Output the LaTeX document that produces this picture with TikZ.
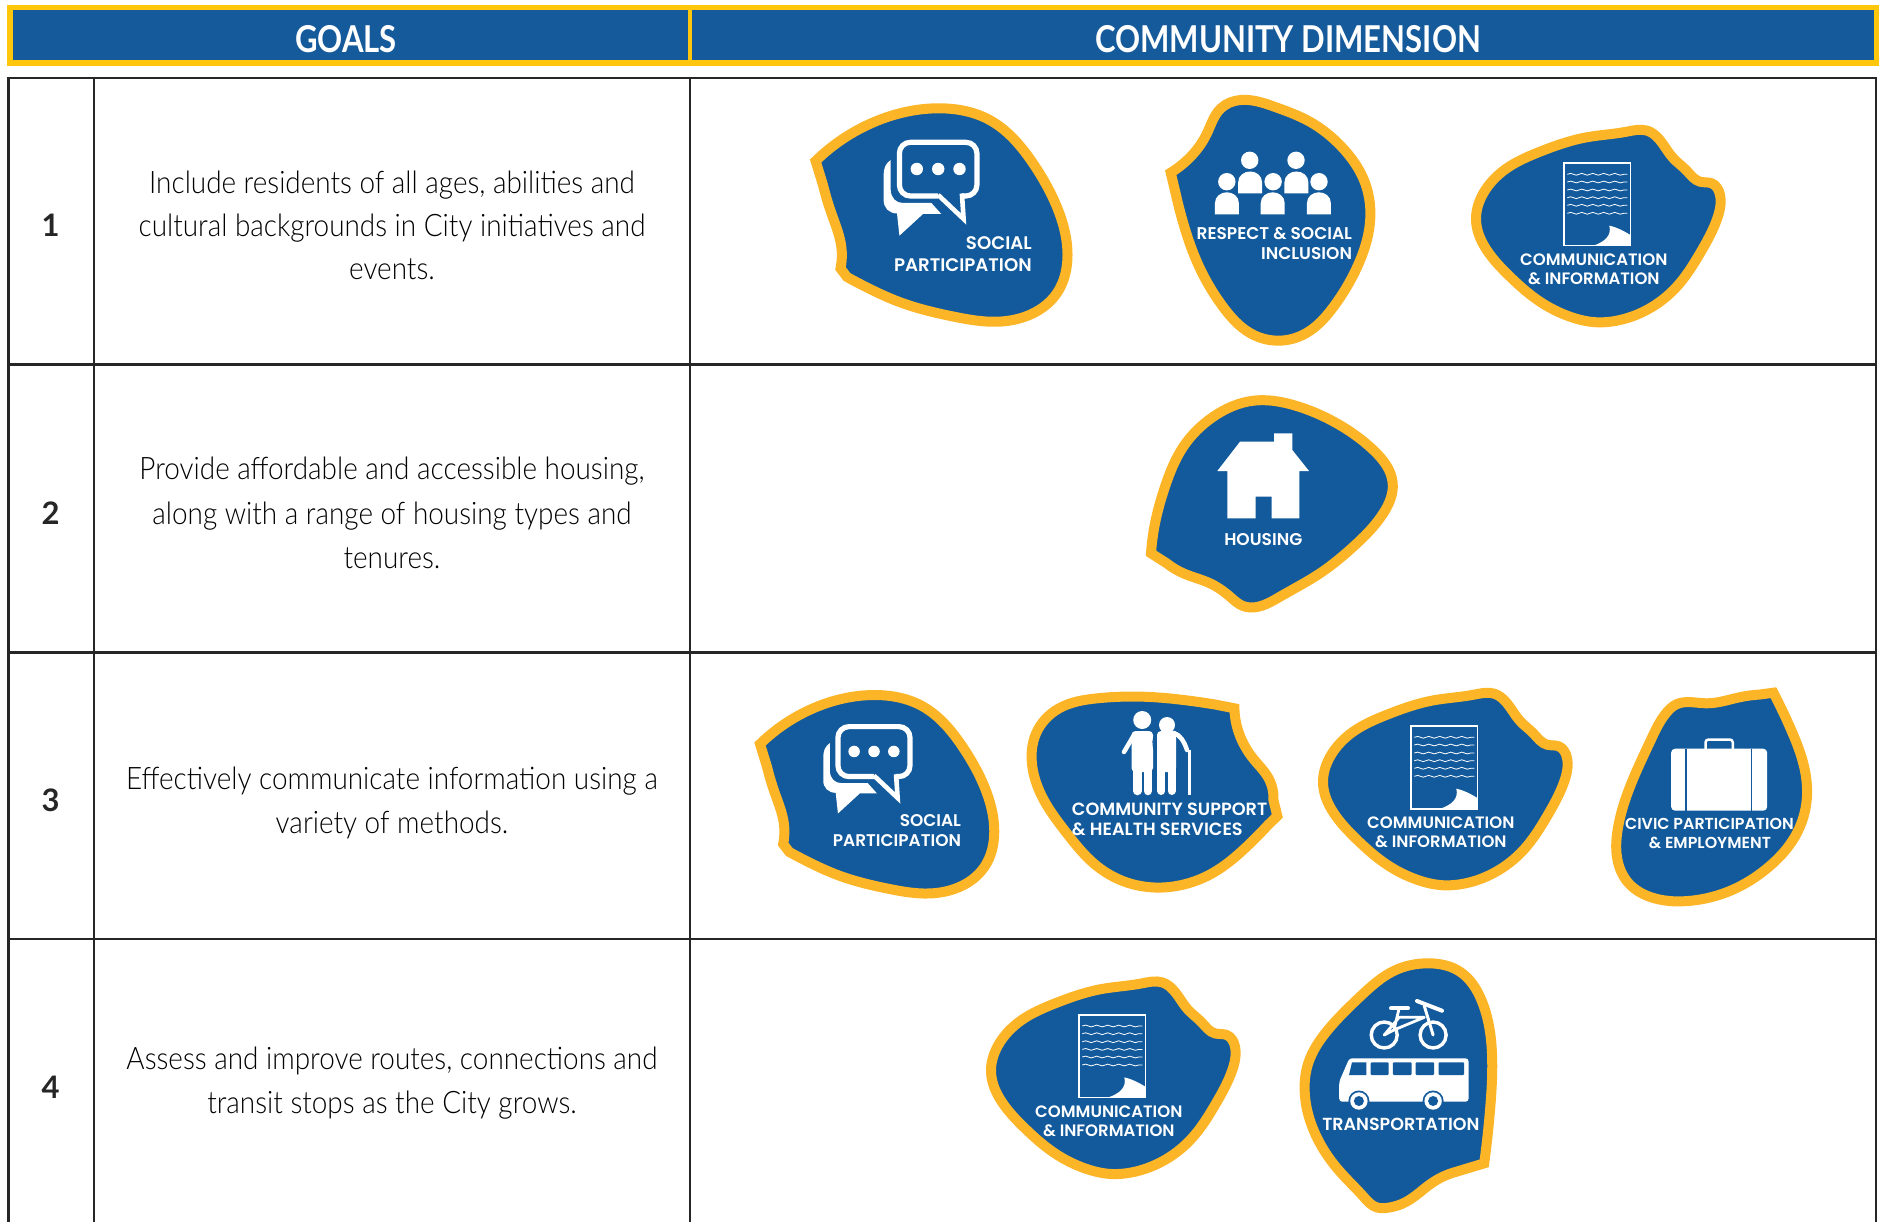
\documentclass[tikz,border=0pt]{standalone}
\usepackage{fontspec}
\usetikzlibrary{decorations.pathmorphing,hobby}
\setmainfont{Lato}
\newfontfamily\bodyf[FakeStretch=.9]{Lato Light}
\newfontfamily\headf[FakeStretch=.84]{Lato Bold}
\newfontfamily\numf{Lato Bold}
\newfontfamily\lblf{Poppins SemiBold}
\definecolor{hblue}{HTML}{155A9B}
\definecolor{hyellow}{HTML}{FFC60B}
\definecolor{bblue}{HTML}{125A9C}
\definecolor{byellow}{HTML}{FBB526}
\definecolor{tline}{HTML}{262626}
\tikzset{
  badge/.style={fill=bblue,draw=byellow,line width=10pt,line join=miter,miter limit=4,use Hobby shortcut},
  iconfill/.style={fill=white,draw=none},
  iconline/.style={draw=white,fill=none},
  badgetext/.style={text=white,inner sep=0pt,font=\lblf\fontsize{#1}{19}\selectfont,transform shape},
  badgetext/.default=16.5,
  headtext/.style={text=white,inner sep=0pt,anchor=base,font=\headf\fontsize{37}{40}\selectfont},
  goaltext/.style={text=black,inner sep=0pt,anchor=base,font=\bodyf\fontsize{31}{36}\selectfont},
  numtext/.style={text=black!85,inner sep=0pt,anchor=base,font=\numf\fontsize{31}{36}\selectfont},
  tableline/.style={draw=tline,line width=2.4pt},
  commbadge/.pic={
    \filldraw[badge,closed=true] (1647.3,130.7)..(1658.3,138.3)..(1673.3,158.3)..(1686.7,170.7)..(1700,181.7)..(1711.7,183.3)..(1720,195)..(1716.7,220)..(1700,253.3)..(1676.7,286.7)..(1646.7,310)..(1616.7,320.7)..(1596.7,322.3)..(1570,316.7)..(1540,301.7)..(1510,276.7)..(1486.7,250)..(1476,220)..(1483.3,193.3)..(1506.7,168.3)..(1540,151.7)..(1586.7,137.3)..(1626.7,131.7);
    \draw[iconline,line width=1.6pt] (1563.7,163) rectangle (1630.3,245.7);
    \foreach \wy in {174.3,182,190,197.7,205.3,213.3}
      \draw[iconline,line width=.8pt,decorate,decoration={snake,amplitude=.9pt,segment length=11pt}] (1567.3,\wy) -- (1627.3,\wy);
    \fill[iconfill] (1593.3,245.7) .. controls (1604,242) and (1612,236) .. (1609.3,225.7) .. controls (1616,227) and (1624,231) .. (1630.3,235) -- (1630.3,245.7) -- cycle;
    \node[badgetext,anchor=base] (-t1) at (1593.8,265.4) {COMMUNICATION};
    \node[badgetext,anchor=base] (-t2) at (1593.8,284.4) {\& INFORMATION};
  },
  socialbadge/.pic={
    \filldraw[badge] (815.6,161)..(874.9,121.7)..(938.2,108.3)..(989.6,120)..(1033,163.3)..(1056.8,206.7)..(1067.5,255)..(1056.8,293.3)..(1025,316.7)..(997.5,321.7)..(954,316.7)..(898.6,301.7)..(872,290)..(847,277) -- (840.5,268.5)..(841.3,246.7)..(831.4,213.3)..(823,185) -- cycle;
    \fill[iconfill] (890.7,160) .. controls (886,163) and (883.6,168) .. (883.6,175) -- (883.6,200) .. controls (883.6,208) and (889,213.3) .. (897,213.5) -- (899.4,235.7) -- (923,214) -- (941.3,214) -- (931.4,203) -- (903,203) .. controls (896,203) and (891,198) .. (890.7,190) -- cycle;
    \draw[fill=bblue,draw=none,rounded corners=11pt] (899.4,196) rectangle (976.9,142.3);
    \draw[iconline,line width=5.2pt,rounded corners=11pt] (938.2,196) -- (899.4,196) -- (899.4,142.3) -- (976.9,142.3) -- (976.9,196) -- (961.5,196);
    \draw[iconline,line width=4.6pt,line join=miter] (961.9,193.5) -- (963.6,219) -- (938.2,195);
    \foreach \dx in {916.8,938.2,959.5} \fill[iconfill] (\dx,169) circle (6.2pt);
    \node[badgetext=18.2,anchor=base east] (-t1) at (1031.9,249.6) {SOCIAL};
    \node[badgetext=18.2,anchor=base east] (-t2) at (1031.9,271.3) {PARTICIPATION};
  },
  personbody/.pic={
    \fill[iconfill] (-12,11) -- (-12,0) .. controls (-12,-7) and (-6,-11) .. (0,-11) .. controls (6,-11) and (12,-7) .. (12,0) -- (12,11) -- cycle;
  }
}
\begin{document}
\begin{tikzpicture}[x=1pt,y=-1pt]
\useasboundingbox (0,0) rectangle (1879,1222);
% header
\filldraw[fill=hblue,draw=hyellow,line width=5.4pt] (9.8,7.5) rectangle (1876.5,63);
\draw[hyellow,line width=4.5pt] (690,7.5) -- (690,63);
\node[headtext] (goalshead) at (346,52.5) {GOALS};
\node[headtext] (dimhead) at (1288,52.5) {COMMUNITY DIMENSION};
% table
\draw[tableline] (8.5,1222) -- (8.5,78) -- (1876,78) -- (1876,1222);
\draw[tableline] (8.5,364.5) -- (1876,364.5);
\draw[tableline] (8.5,652.5) -- (1876,652.5);
\draw[tableline] (8.5,939) -- (1876,939);
\draw[tableline] (94,78) -- (94,1222);
\draw[tableline] (690,78) -- (690,1222);
% numbers
\node[numtext] (n1) at (50.5,237) {1};
\node[numtext] (n2) at (50.5,524.5) {2};
\node[numtext] (n3) at (50.5,811.5) {3};
\node[numtext] (n4) at (50.5,1098) {4};
% goals
\node[goaltext] (g1a) at (392,194) {Include residents of all ages, abilities and};
\node[goaltext] (g1b) at (392,237) {cultural backgrounds in City initiatives and};
\node[goaltext] (g1c) at (392,280) {events.};
\node[goaltext] (g2a) at (392,479.5) {Provide affordable and accessible housing,};
\node[goaltext] (g2b) at (392,524) {along with a range of housing types and};
\node[goaltext] (g2c) at (392,568) {tenures.};
\node[goaltext] (g3a) at (392,789) {Effectively communicate information using a};
\node[goaltext] (g3b) at (392,833) {variety of methods.};
\node[goaltext] (g4a) at (392,1069) {Assess and improve routes, connections and};
\node[goaltext] (g4b) at (392,1113) {transit stops as the City grows.};
% social badges
\pic (soc1) at (0,0) {socialbadge};
\pic[scale=.93] (soc2) at (1.5,594.3) {socialbadge};
% comm badges
\pic (com1) at (0,0) {commbadge};
\pic (com2) at (-153,563) {commbadge};
\pic (com3) at (-485,851.7) {commbadge};
% respect
\filldraw[badge] (1170.7,172.7)..(1187.3,160)..(1207,133.3)..(1220.9,108.3)..(1240.6,100)..(1274.3,106.7)..(1309.8,121.7)..(1341.5,146.7)..(1365.2,183.3)..(1369.9,223.3)..(1357.3,266.7)..(1333.6,306.7)..(1305.9,333.3)..(1278.2,340.7)..(1250.5,333.3)..(1222.9,306.7)..(1199.1,266.7)..(1183.3,223.3)..(1176,195) -- cycle;
\foreach \hx in {1249.7,1296} \fill[iconfill] (\hx,160.3) circle (8.7pt);
\foreach \hx in {1226.8,1273.1,1319} \fill[iconfill] (\hx,181.7) circle (8.7pt);
\foreach \bx in {1250.1,1296.4} \pic at (\bx,182.5) {personbody};
\foreach \bx in {1226.9,1272.7,1318.9} \pic at (\bx,203.3) {personbody};
\node[badgetext=17,anchor=base east] (rs1) at (1352.2,240) {RESPECT \& SOCIAL};
\node[badgetext=17,anchor=base east] (rs2) at (1352.2,259.2) {INCLUSION};
% housing
\filldraw[badge] (1151,553.3)..(1155,523.3)..(1165,486.7)..(1183.3,446.7)..(1213.3,416.7)..(1253.3,400.7)..(1293.3,405)..(1336.7,423.3)..(1373.3,450)..(1392.7,483.3)..(1383.3,513.3)..(1353.3,546.7)..(1320,573.3)..(1280,596.7)..(1251,607.5)..(1243,606)..(1230,596.7)..(1210,583.3)..(1183.3,573.3)..(1166.7,563.3) -- cycle;
\fill[iconfill] (1217.3,471) -- (1240,441.7) -- (1274,441.7) -- (1274,433.3) -- (1292.3,433.3) -- (1292.3,450) -- (1309,471) -- (1299.3,471) -- (1299.3,518.3) -- (1271.7,518.3) -- (1271.7,496.7) -- (1255.7,496.7) -- (1255.7,518.3) -- (1227.3,518.3) -- (1227.3,471) -- cycle;
\node[badgetext=17,anchor=base] (hs) at (1263.3,545.2) {HOUSING};
% community support
\filldraw[badge] (1234.4,708.3)..(1239,733.3)..(1254.3,760)..(1267.7,776.7)..(1273.4,800) -- (1277.3,816) -- (1268,825)..(1246.6,846.7)..(1212.2,873.3)..(1181.6,885)..(1151,887.3)..(1120.3,880)..(1093.6,863.3)..(1066.8,833.3)..(1043.8,800)..(1032.3,766.7)..(1036.1,733.3)..(1059.1,708.3)..(1097.4,698.3)..(1143.3,696.7)..(1189.2,700.7)..(1215,704.5) -- cycle;
\fill[iconfill] (1142.2,720) circle (9pt);
\fill[iconfill] (1167,725) circle (8pt);
\fill[iconfill,rounded corners=4pt] (1131.5,731) rectangle (1153,772);
\fill[iconfill,rounded corners=4pt] (1157,731) rectangle (1176,772);
\draw[iconline,line width=8.5pt,line cap=round] (1137.3,765) -- (1137.3,791);
\draw[iconline,line width=8.5pt,line cap=round] (1147.8,765) -- (1147.8,791);
\draw[iconline,line width=8pt,line cap=round] (1161.3,765) -- (1161.3,791);
\draw[iconline,line width=8pt,line cap=round] (1171.5,765) -- (1171.5,791);
\draw[iconline,line width=4.5pt,line cap=round] (1134,735) -- (1124,752);
\draw[iconline,line width=4.5pt,line cap=round] (1174,733) .. controls (1180,735) and (1184,741) .. (1187,750);
\draw[iconline,line width=3pt] (1189.2,750) -- (1189.2,795);
\draw[bblue,line width=1pt] (1156,733) .. controls (1152,738) and (1152,745) .. (1155,752);
\node[badgetext=17.7,anchor=base west] (cs1) at (1071.7,815.2) {COMMUNITY SUPPORT};
\node[badgetext=17.7,anchor=base west] (cs2) at (1071.7,835.2) {\& HEALTH SERVICES};
% civic
\filldraw[badge] (1773.4,692.7)..(1791.2,730)..(1804.1,766.7)..(1806.7,800)..(1794.9,836.7)..(1769,866.7)..(1732.1,890)..(1691.5,900.7)..(1654.5,898.3)..(1628.7,883.3)..(1616.9,856.7)..(1617.6,830)..(1628.7,790)..(1650.8,740)..(1667,712)..(1676,704.5)..(1706.2,703.3)..(1739.5,697.3)..(1760,694.5) -- cycle;
\fill[iconfill,rounded corners=4pt] (1671.1,748.7) rectangle (1767.2,810.7);
\draw[bblue,line width=1.5pt] (1685.9,748.7) -- (1685.9,810.7);
\draw[bblue,line width=1.5pt] (1751.3,748.7) -- (1751.3,810.7);
\draw[iconline,line width=2.5pt,rounded corners=3pt] (1705.5,749) -- (1705.5,739.5) -- (1732.8,739.5) -- (1732.8,749);
\node[badgetext=15.9,anchor=base] (cv1) at (1709.4,829.9) {CIVIC PARTICIPATION};
\node[badgetext=15.9,anchor=base] (cv2) at (1709.9,848.6) {\& EMPLOYMENT};
% transportation
\filldraw[badge] (1484.2,1163.3)..(1490.3,1106.7)..(1492.1,1056.7)..(1481.4,1000)..(1460,971.7)..(1427.8,963.3)..(1395.7,970)..(1360,996.7)..(1327.8,1030)..(1308.2,1063.3)..(1304.6,1090)..(1313.5,1130)..(1338.5,1170)..(1363.5,1196.7)..(1377,1207.5)..(1386,1208)..(1406.4,1201.7)..(1431.4,1183.3)..(1456.4,1171.7) -- cycle;
\fill[iconfill,rounded corners=3pt] (1349.3,1058.3) -- (1468.5,1058.3) -- (1468.5,1101.7) -- (1339.2,1101.7) -- (1339.2,1081.7) -- cycle;
\fill[bblue] (1352,1062.3) -- (1366.4,1062.3) -- (1366.4,1075) -- (1349,1075) -- cycle;
\foreach \wa/\wb in {1370.7/1388.6,1392.9/1411.7,1415.6/1434.2,1438.5/1464.2}
  \fill[bblue,rounded corners=1pt] (\wa,1062.3) rectangle (\wb,1075);
\foreach \wx in {1358.9,1433.1} {
  \fill[bblue] (\wx,1101) circle (10.5pt);
  \fill[iconfill] (\wx,1101) circle (8.7pt);
  \fill[bblue] (\wx,1101) circle (5pt);
}
\foreach \wx in {1384.2,1433.1} \draw[iconline,line width=3.4pt] (\wx,1035) circle (13pt);
\draw[iconline,line width=2.8pt,line join=round] (1399.2,1008) -- (1393.9,1030) -- (1384.2,1035) -- (1399.2,1017.3) -- (1424.3,1017.3) -- (1393.9,1030);
\draw[iconline,line width=3pt,line cap=round] (1424.3,1006) -- (1433.1,1035);
\draw[iconline,line width=4pt,line cap=round] (1391,1008.3) -- (1408,1008.3);
\draw[iconline,line width=4pt,line cap=round] (1417,1001) -- (1442,1010.7);
\node[badgetext=17.5,anchor=base] (tr) at (1400.9,1130) {TRANSPORTATION};
\end{tikzpicture}
\end{document}
